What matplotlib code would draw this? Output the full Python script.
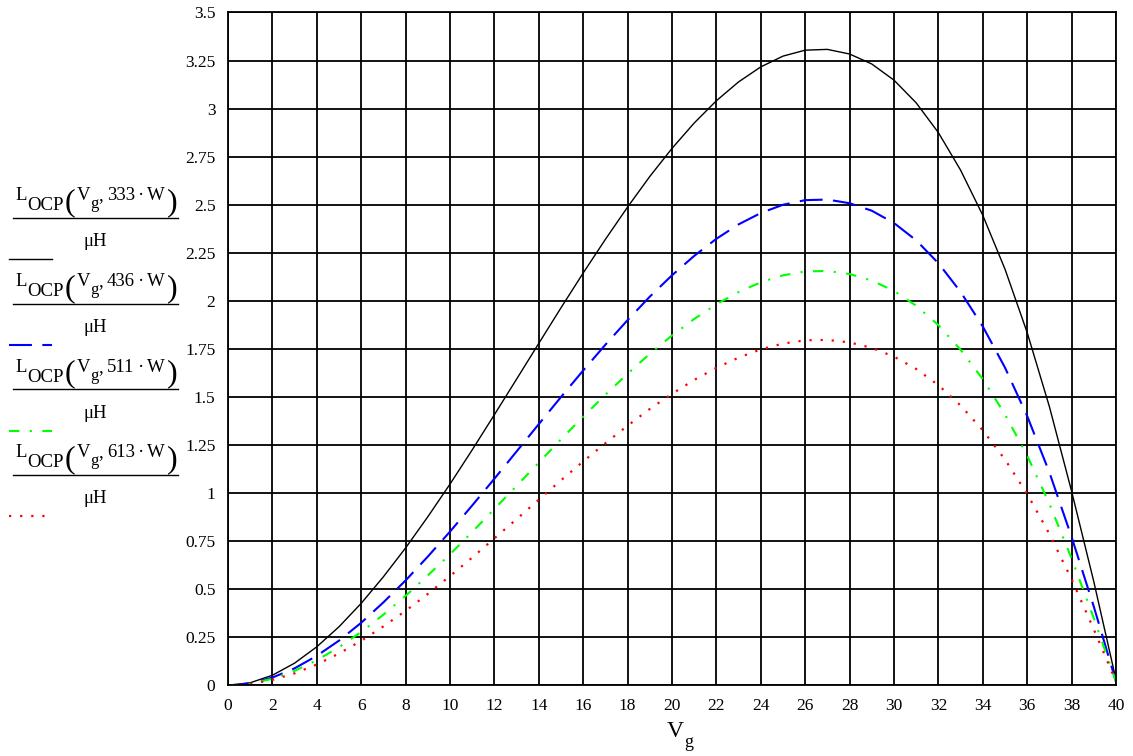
import matplotlib
matplotlib.use("Agg")
import matplotlib.pyplot as plt
from matplotlib.lines import Line2D
from matplotlib.ticker import MultipleLocator, FormatStrFormatter

plt.rcParams['font.family'] = ['Liberation Serif', 'DejaVu Serif']
plt.rcParams['mathtext.fontset'] = 'stix'

# Vg values (V) and L_OCP / uH for each power level
vg = list(range(0, 41))
l_333 = [0, 0.014, 0.053, 0.116, 0.201, 0.305, 0.427, 0.565, 0.715, 0.877,
         1.047, 1.225, 1.408, 1.593, 1.779, 1.964, 2.145, 2.320, 2.488, 2.647,
         2.793, 2.925, 3.041, 3.139, 3.217, 3.273, 3.304, 3.308, 3.284, 3.232,
         3.148, 3.030, 2.875, 2.680, 2.445, 2.165, 1.835, 1.450, 1.010, 0.540, 0.03]
l_436 = [0, 0.011, 0.041, 0.089, 0.154, 0.233, 0.326, 0.432, 0.546, 0.670,
         0.800, 0.936, 1.075, 1.217, 1.359, 1.500, 1.638, 1.772, 1.900, 2.022,
         2.133, 2.234, 2.323, 2.398, 2.457, 2.500, 2.524, 2.527, 2.508, 2.469,
         2.405, 2.315, 2.196, 2.047, 1.867, 1.653, 1.401, 1.108, 0.772, 0.410, 0.02]
l_511 = [0, 0.009, 0.035, 0.076, 0.131, 0.199, 0.278, 0.368, 0.466, 0.572,
         0.682, 0.798, 0.918, 1.038, 1.159, 1.280, 1.398, 1.512, 1.621, 1.725,
         1.820, 1.906, 1.982, 2.046, 2.097, 2.133, 2.153, 2.156, 2.140, 2.106,
         2.052, 1.975, 1.874, 1.746, 1.593, 1.410, 1.195, 0.945, 0.660, 0.350, 0.02]
l_613 = [0, 0.008, 0.029, 0.063, 0.109, 0.166, 0.232, 0.307, 0.388, 0.476,
         0.569, 0.665, 0.765, 0.865, 0.966, 1.067, 1.165, 1.260, 1.351, 1.438,
         1.517, 1.589, 1.652, 1.705, 1.748, 1.778, 1.795, 1.797, 1.784, 1.756,
         1.710, 1.646, 1.562, 1.456, 1.327, 1.175, 0.996, 0.788, 0.552, 0.292, 0.02]
powers = ['333', '436', '511', '613']

styles = [
    dict(color='black', lw=1.0, linestyle='-'),
    dict(color='#0000ff', lw=1.5, linestyle=(0, (11, 5))),
    dict(color='#00ff00', lw=1.5, linestyle=(0, (5, 5, 1, 5))),
    dict(color='#ff0000', lw=1.6, linestyle=(0, (1, 4))),
]

fig = plt.figure(figsize=(11.33, 7.56), dpi=100)
ax = fig.add_axes([0.2012, 0.0933, 0.7838, 0.8902])

for series, st in zip([l_333, l_436, l_511, l_613], styles):
    ax.plot(vg, series, **st)

ax.set_xlim(0, 40)
ax.set_ylim(0, 3.5)
ax.xaxis.set_major_locator(MultipleLocator(2))
ax.yaxis.set_major_locator(MultipleLocator(0.25))
ax.yaxis.set_major_formatter(FormatStrFormatter('%g'))
ax.grid(True, color='black', lw=1.3)
ax.tick_params(length=0, labelsize=12.5, pad=9)
for s in ax.spines.values():
    s.set_linewidth(1.3)

W, H = 1133.0, 756.0


def put(x, y, s, fs, ha='left'):
    # place text by pixel position (baseline) in figure
    fig.text(x / W, 1 - y / H, s, ha=ha, va='baseline', fontsize=fs)


put(667, 737, 'V', 17)
put(684, 747, 'g', 13)

# Mathcad-style legend on the left
for i, (p, st) in enumerate(zip(powers, styles)):
    dy = i * 85.8
    put(15, 200 + dy, 'L', 13.5)
    put(27, 210 + dy, 'OCP', 13.5)
    put(65, 210 + dy, '(', 23)
    put(77, 200 + dy, 'V', 13.5)
    put(90, 208 + dy, 'g', 12)
    put(98, 200 + dy, ',', 13.5)
    put(107, 200 + dy, p, 13.5)
    put(141, 200 + dy, '\u00b7', 13.5, ha='center')
    put(147, 200 + dy, 'W', 13.5)
    put(167, 210 + dy, ')', 23)
    fig.add_artist(Line2D([12.7 / W, 177.7 / W], [1 - (217.8 + dy) / H] * 2,
                          color='black', lw=1.0))
    put(95, 246 + dy, '\u03bcH', 13.5, ha='center')
    fig.add_artist(Line2D([9 / W, 52 / W], [1 - (259 + dy) / H] * 2, **st))

fig.savefig('out.png', dpi=100)
